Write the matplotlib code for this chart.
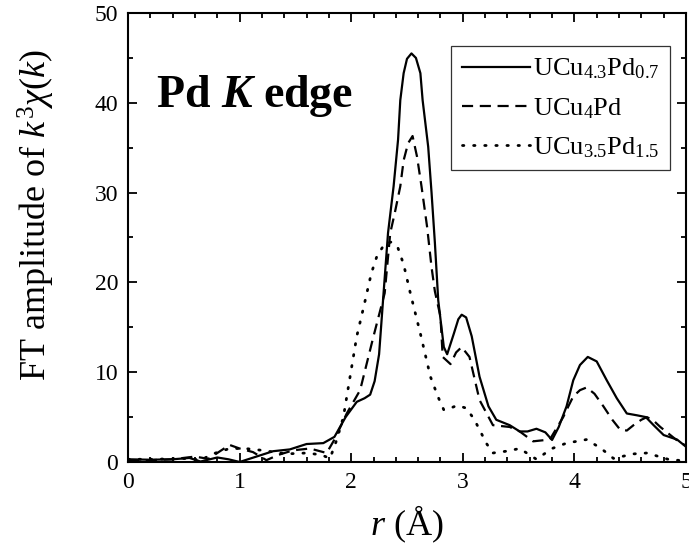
import numpy as np
import matplotlib
matplotlib.use("Agg")
import matplotlib.pyplot as plt

plt.rcParams['font.family'] = ['Liberation Serif', 'DejaVu Serif']
plt.rcParams['mathtext.fontset'] = 'custom'
plt.rcParams['mathtext.rm'] = 'Liberation Serif'
plt.rcParams['mathtext.it'] = 'Liberation Serif:italic'
plt.rcParams['mathtext.bf'] = 'Liberation Serif:bold'
plt.rcParams['mathtext.bfit'] = 'Liberation Serif:bold:italic'

# UCu4.3Pd0.7 (solid)
r_a = [0.0, 0.2, 0.4, 0.55, 0.65, 0.8, 0.9, 1.0, 1.15, 1.3, 1.45, 1.6, 1.75, 1.85,
       1.95, 2.05, 2.12, 2.17, 2.21, 2.25, 2.29, 2.33, 2.38, 2.42, 2.44, 2.47,
       2.50, 2.54, 2.58, 2.62, 2.64, 2.69, 2.72, 2.75, 2.78, 2.83, 2.86, 2.92,
       2.96, 2.99, 3.03, 3.08, 3.15, 3.23, 3.30, 3.36, 3.42, 3.51, 3.58, 3.66,
       3.74, 3.80, 3.86, 3.93, 3.99, 4.05, 4.12, 4.20, 4.29, 4.38, 4.47, 4.56,
       4.64, 4.71, 4.80, 4.92, 5.0]
ft_a = [0.3, 0.25, 0.3, 0.45, 0.05, 0.5, 0.3, 0.0, 0.6, 1.2, 1.4, 2.0, 2.1, 2.8,
        5.0, 6.7, 7.1, 7.5, 9.0, 12.0, 18.8, 25.5, 30.7, 35.9, 40.3, 43.3,
        44.9, 45.5, 45.0, 43.3, 40.3, 35.1, 30.0, 24.4, 18.0, 12.8, 12.0, 14.3,
        15.9, 16.4, 16.1, 14.0, 9.5, 6.2, 4.7, 4.4, 4.1, 3.4, 3.4, 3.7,
        3.3, 2.45, 3.9, 6.2, 9.1, 10.8, 11.7, 11.2, 9.1, 7.1, 5.4, 5.2,
        5.0, 4.1, 3.0, 2.5, 1.7]

# UCu4Pd (dashed)
r_b = [0.0, 0.2, 0.4, 0.53, 0.6, 0.72, 0.8, 0.91, 1.0, 1.12, 1.24, 1.35, 1.48,
       1.63, 1.78, 1.85, 1.96, 2.08, 2.2, 2.3, 2.35, 2.39, 2.44, 2.47, 2.51,
       2.55, 2.59, 2.63, 2.68, 2.72, 2.75, 2.80, 2.82, 2.89, 2.94, 2.99, 3.06,
       3.15, 3.27, 3.42, 3.51, 3.63, 3.78, 3.90, 3.95, 3.99, 4.05, 4.11, 4.18,
       4.26, 4.34, 4.41, 4.47, 4.53, 4.60, 4.65, 4.71, 4.77, 4.91, 5.0]
ft_b = [0.2, 0.2, 0.3, 0.5, 0.6, 0.35, 1.0, 1.9, 1.5, 1.1, 0.2, 0.8, 1.3,
        1.5, 1.0, 2.5, 5.4, 8.0, 14.0, 18.8, 25.5, 27.7, 30.7, 33.6, 35.5,
        36.3, 34.0, 30.7, 26.2, 21.7, 19.0, 16.2, 11.7, 10.9, 12.2, 12.8, 11.7,
        6.9, 4.1, 3.9, 3.4, 2.3, 2.5, 5.0, 6.3, 7.3, 8.0, 8.3, 7.6,
        6.2, 4.7, 3.6, 3.5, 4.1, 4.7, 5.0, 4.6, 3.9, 2.5, 1.8]

# UCu3.5Pd1.5 (dotted)
r_c = [0.0, 0.2, 0.4, 0.55, 0.65, 0.76, 0.91, 1.05, 1.2, 1.42, 1.6, 1.73, 1.81,
       1.87, 1.93, 1.99, 2.05, 2.12, 2.18, 2.23, 2.3, 2.36, 2.42, 2.47, 2.53,
       2.62, 2.71, 2.78, 2.83, 2.89, 2.95, 3.03, 3.1, 3.15, 3.21, 3.27, 3.39,
       3.51, 3.66, 3.8, 3.93, 4.11, 4.24, 4.35, 4.53, 4.65, 4.84, 5.0]
ft_c = [0.3, 0.3, 0.35, 0.4, 0.2, 0.9, 1.5, 1.5, 1.3, 0.9, 1.0, 0.8, 0.4,
        2.45, 5.0, 9.5, 14.0, 17.7, 21.0, 22.9, 24.3, 24.5, 23.8, 22.0, 18.8,
        14.3, 9.5, 7.2, 5.8, 6.0, 6.3, 6.0, 4.8, 3.6, 2.1, 1.0, 1.2,
        1.5, 0.3, 1.5, 2.1, 2.5, 1.5, 0.4, 0.9, 1.0, 0.3, 0.1]

labels = [r'UCu$_{4.3}$Pd$_{0.7}$', r'UCu$_{4}$Pd', r'UCu$_{3.5}$Pd$_{1.5}$']

fig = plt.figure(figsize=(6.89, 5.54), dpi=100)
ax = fig.add_axes([0.1858, 0.1661, 0.8098, 0.8104])

ax.plot(r_a, ft_a, color='black', lw=1.6, ls='-', label=labels[0])
ax.plot(r_b, ft_b, color='black', lw=1.6, ls=(0, (5, 3)), label=labels[1])
ax.plot(r_c, ft_c, color='black', lw=2.0, ls=(0, (0.5, 3.5)),
        dash_capstyle='round', label=labels[2])

ax.set_xlim(0, 5)
ax.set_ylim(0, 50)
ax.set_xticks([0, 1, 2, 3, 4, 5])
ax.set_yticks([0, 10, 20, 30, 40, 50])
ax.set_xticks(np.arange(0, 5.01, 0.2), minor=True)
ax.set_yticks(np.arange(0, 50.1, 5), minor=True)
ax.tick_params(which='both', direction='in', top=True, right=True,
               labelsize=17, width=1.3)
ax.tick_params(which='major', length=6.5, pad=7)
ax.tick_params(which='minor', length=3.3)
for s in ax.spines.values():
    s.set_linewidth(1.5)

ax.set_xlabel(r'$r$ (Å)', fontsize=26, labelpad=8)
ax.set_ylabel(r'FT amplitude of $k^3\chi(k)$', fontsize=26)
ax.yaxis.set_label_coords(-0.127, 0.55)

ax.text(0.05, 0.815, r'Pd $\mathbfit{K}$ edge', transform=ax.transAxes,
        fontsize=33, fontweight='bold', va='center', ha='left')

leg = ax.legend(loc='upper right', bbox_to_anchor=(0.971, 0.926), fontsize=19,
                frameon=True, fancybox=False, edgecolor='black',
                handlelength=2.6, handletextpad=0.1, borderpad=0.4,
                labelspacing=0.55, borderaxespad=0)
leg.get_frame().set_linewidth(0.9)

fig.savefig('out.png', dpi=100)
